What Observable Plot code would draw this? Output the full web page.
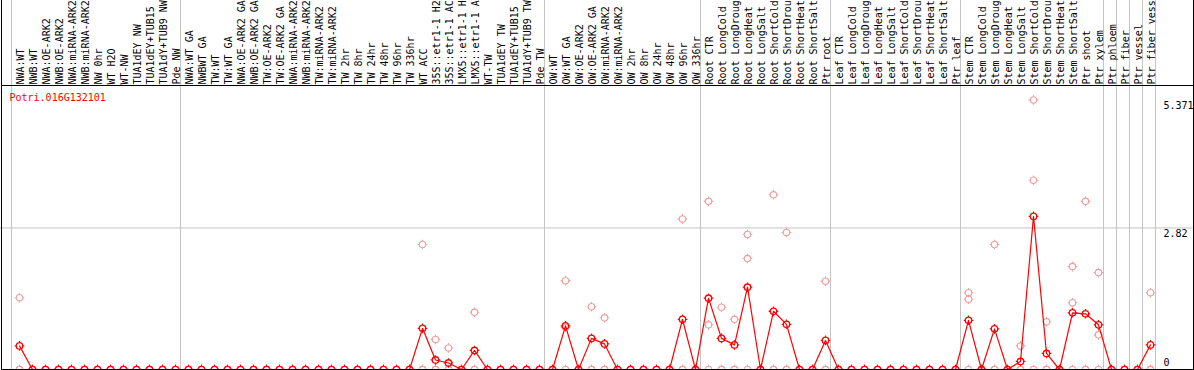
<!DOCTYPE html>
<html>
<head>
<meta charset="utf-8">
<script src="https://cdn.jsdelivr.net/npm/d3@7"></script>
<script src="https://cdn.jsdelivr.net/npm/@observablehq/plot@0.6"></script>
<style>
  html, body { margin: 0; padding: 0; background: #fff; }
  #wrap { position: relative; width: 1194px; height: 370px; overflow: hidden; }
  #wrap svg { display: block; }
  .border { position: absolute; left: 1px; top: 0; width: 1193px; height: 370px; box-sizing: border-box;
            border-left: 1px solid #000; border-right: 1px solid #000; border-bottom: 1px solid #000; pointer-events: none; }
  .hline { position: absolute; left: 1px; top: 85px; width: 1193px; height: 1px; background: #000; pointer-events: none; }
</style>
</head>
<body>
<div id="wrap"></div>
<script>
// ---- data ----
const geneTitle = "Potri.016G132101";

const categories = [
  "NWA:WT","NWB:WT","NWA:OE-ARK2","NWB:OE-ARK2","NWA:miRNA-ARK2","NWB:miRNA-ARK2","NW 0hr","WT H2O","WT-NW",
  "TUA1dEY NW","TUA1dEY+TUB15","TUA1dY+TUB9 NW","Pde NW",
  "NWA:WT GA","NWBWT GA","TW:WT","TW:WT GA","NWA:OE-ARK2 GA","NWB:OE-ARK2 GA","TW:OE-ARK2","TW:OE-ARK2 GA",
  "NWA:miRNA-ARK2","NWB:miRNA-ARK2","TW:miRNA-ARK2","TW:miRNA-ARK2",
  "TW 2hr","TW 8hr","TW 24hr","TW 48hr","TW 96hr","TW 336hr",
  "WT ACC","35S::etr1-1 H2","35S::etr1-1 AC","LMX5::etr1-1 H","LMX5::etr1-1 A",
  "WT-TW","TUA1dEY TW","TUA1dEY+TUB15","TUA1dY+TUB9 TW","Pde TW",
  "OW:WT","OW:WT GA","OW:OE-ARK2","OW:OE-ARK2 GA","OW:miRNA-ARK2","OW:miRNA-ARK2",
  "OW 2hr","OW 8hr","OW 24hr","OW 48hr","OW 96hr","OW 336hr",
  "Root CTR","Root LongCold","Root LongDroug","Root LongHeat","Root LongSalt",
  "Root ShortCold","Root ShortDrou","Root ShortHeat","Root ShortSalt","Ptr root",
  "Leaf CTR","Leaf LongCold","Leaf LongDroug","Leaf LongHeat","Leaf LongSalt",
  "Leaf ShortCold","Leaf ShortDrou","Leaf ShortHeat","Leaf ShortSalt","Ptr leaf",
  "Stem CTR","Stem LongCold","Stem LongDroug","Stem LongHeat","Stem LongSalt",
  "Stem ShortCold","Stem ShortDrou","Stem ShortHeat","Stem ShortSalt","Ptr shoot",
  "Ptr xylem","Ptr phloem","Ptr fiber","Ptr vessel","Ptr fiber vess"
];

// mean expression per category
const meanValues = [
  0.47,0,0,0,0,0,0,0,0,0,0,0,0,
  0,0,0,0,0,0,0,0,0,0,0,0,
  0,0,0,0,0,0,
  0.82,0.19,0.13,0,0.38,
  0,0,0,0,0,
  0,0.87,0,0.62,0.51,0,
  0,0,0,0,1.00,0,
  1.42,0.62,0.49,1.64,0,
  1.16,0.90,0,0,0.58,
  0,0,0,0,0,
  0,0,0,0,0,
  0.98,0,0.81,0,0.16,
  3.05,0.32,0,1.13,1.11,
  0.89,0,0,0,0.49
];

// replicate values per category (index -> values)
const replicateValues = {
  0: [1.43,0,0],
  31: [2.49,0,0], 32: [0.60,0,0], 33: [0.43,0,0], 35: [1.14,0,0],
  42: [1.77,0.84,0], 44: [1.25,0,0], 45: [1.03,0,0], 51: [3.00,0,0],
  53: [3.35,0.89,0], 54: [1.24,0,0], 55: [1.00,0,0], 56: [2.69,2.21,0],
  58: [3.48,0,0], 59: [2.73,0,0], 62: [1.76,0,0],
  73: [1.53,1.40,0], 75: [2.49,0,0], 77: [0.47,0,0], 78: [5.371,3.77,0],
  79: [0.95,0,0], 81: [2.05,1.33,0], 82: [3.35,0,0], 83: [1.93,0.69,0], 87: [1.53,0,0]
};

// first category index of each group (separators), plus end
const groupStarts = [0,13,41,53,63,73,84,85,86,87,88];

const gridValues = [2.82];
const yTickValues = [5.371, 2.82];
const yTickLabels = ["5.371", "2.82"];
const zeroTick = [0];
const zeroTickLabel = ["0"];

// ---- build tables ----
const meanTable = meanValues.map((v, i) => ({i, v}));
const repTable = [];
categories.forEach((c, i) => {
  const reps = replicateValues[i] || [0,0,0];
  reps.forEach(v => repTable.push({i, v}));
});
const labelTable = categories.map((c, i) => ({i, c}));

// ring with four short spokes
const ring = {
  draw(ctx, size) {
    const r = Math.sqrt(size / Math.PI);
    const s = r + 1.6;
    ctx.moveTo(r, 0); ctx.arc(0, 0, r, 0, 2 * Math.PI);
    ctx.moveTo(r, 0); ctx.lineTo(s, 0);
    ctx.moveTo(-r, 0); ctx.lineTo(-s, 0);
    ctx.moveTo(0, r); ctx.lineTo(0, s);
    ctx.moveTo(0, -r); ctx.lineTo(0, -s);
  }
};

const red = "#ff0000";
const pink = "#ef9e9e";
const gray = "#c4c4c4";

const chart = Plot.plot({
  width: 1194,
  height: 370,
  marginTop: 0, marginBottom: 0, marginLeft: 0, marginRight: 0,
  style: {fontFamily: "'DejaVu Sans Mono', monospace", fontSize: "10px", background: "#fff", color: "#000"},
  x: {domain: [0, categories.length - 1], range: [19, 1150], axis: null},
  y: {domain: [0, 5.598], range: [369, 88], axis: null},
  marks: [
    Plot.ruleX(groupStarts, {x: d => d, dx: -8, stroke: gray, strokeWidth: 1}),
    Plot.ruleY(gridValues, {stroke: gray, strokeWidth: 1}),
    Plot.text(labelTable, {x: "i", text: "c", frameAnchor: "top", dy: 84, dx: 1,
      rotate: -90, textAnchor: "start", lineAnchor: "middle", fill: "#000"}),
    Plot.text([geneTitle], {text: d => d, frameAnchor: "top-left", dx: 9, dy: 97,
      textAnchor: "start", lineAnchor: "middle", fill: red}),
    Plot.text(yTickValues, {y: d => d, text: (d, i) => yTickLabels[i], frameAnchor: "right", dx: -31, dy: 6,
      textAnchor: "start", lineAnchor: "middle", fill: "#000"}),
    Plot.text(zeroTick, {y: d => d, text: (d, i) => zeroTickLabel[i], frameAnchor: "right", dx: -31, dy: -7,
      textAnchor: "start", lineAnchor: "middle", fill: "#000"}),
    Plot.dot(repTable, {x: "i", y: "v", symbol: ring, r: 3.2, fill: "none", stroke: pink, strokeWidth: 1.1}),
    Plot.line(meanTable, {x: "i", y: "v", stroke: red, strokeWidth: 1.2}),
    Plot.dot(meanTable, {x: "i", y: "v", symbol: ring, r: 3.2, fill: "none", stroke: red, strokeWidth: 1.3})
  ]
});

const wrap = document.getElementById("wrap");
wrap.appendChild(chart);
const border = document.createElement("div"); border.className = "border"; wrap.appendChild(border);
const hline = document.createElement("div"); hline.className = "hline"; wrap.appendChild(hline);
</script>
</body>
</html>
